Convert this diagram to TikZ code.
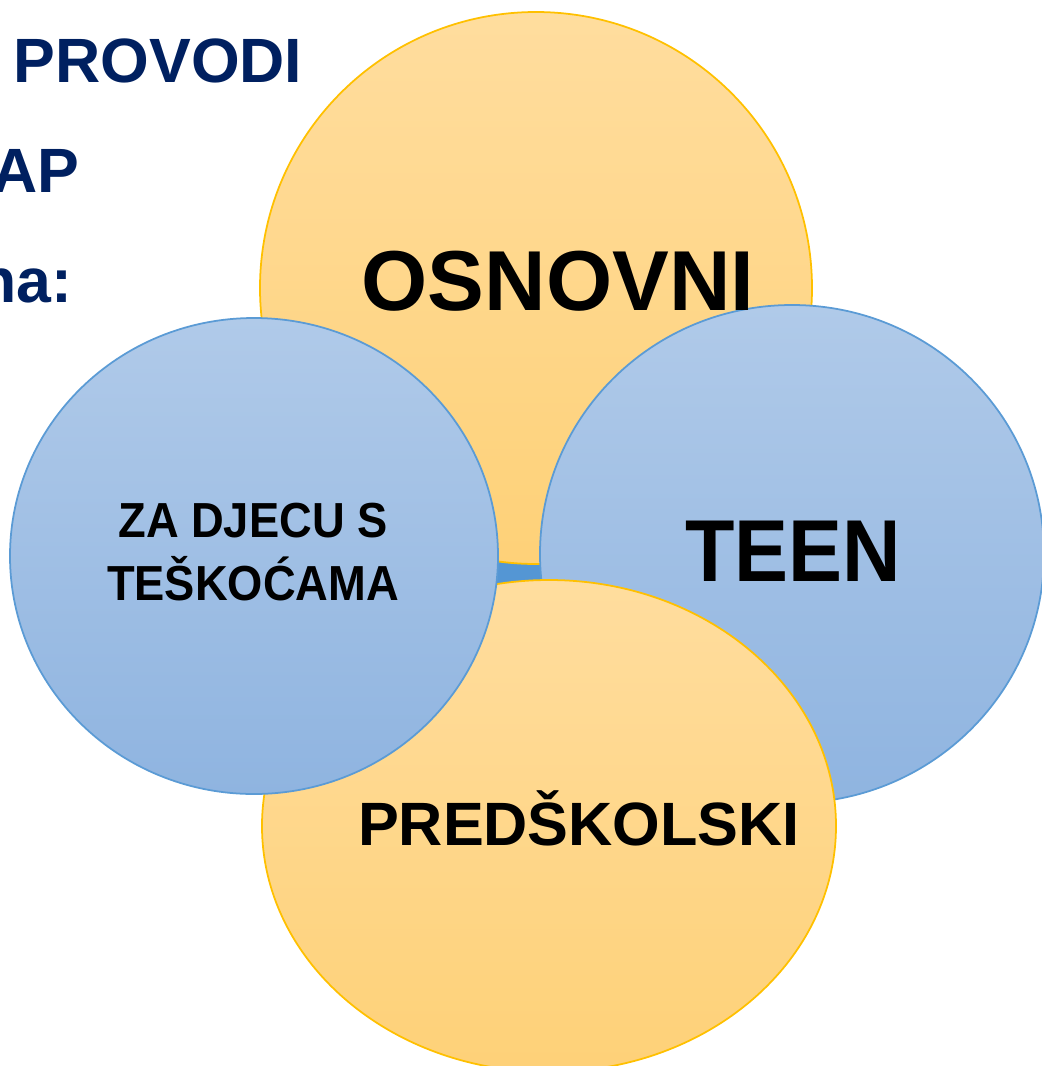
\documentclass[tikz,border=0pt]{standalone}
\usepackage{fontspec}
\setmainfont{Liberation Sans}
\newfontfamily\narrowfont[FakeStretch=0.92]{Liberation Sans}
\usetikzlibrary{calc}
\definecolor{mynavy}{RGB}{0, 32, 96}
\definecolor{myyellowtop}{RGB}{255, 221, 158}
\definecolor{myyellowbot}{RGB}{254, 209, 120}
\definecolor{myyellowline}{RGB}{255, 192, 0}
\definecolor{mybluetop}{RGB}{176, 202, 233}
\definecolor{mybluebot}{RGB}{143, 180, 224}
\definecolor{myblueline}{RGB}{91, 155, 213}
\definecolor{mybluedark}{RGB}{84, 150, 212}
\tikzset{yellowdisc/.style={top color=myyellowtop, bottom color=myyellowbot, draw=myyellowline, line width=0.5pt},
         bluedisc/.style={top color=mybluetop, bottom color=mybluebot, draw=myblueline, line width=0.5pt},
         headline/.style={text=mynavy, inner sep=0pt, font=\fontsize{17.8}{22}\selectfont\bfseries}}

\begin{document}
\begin{tikzpicture}[x=0.01cm, y=-0.01cm]
\useasboundingbox (0,0) rectangle (1042,1066);
\clip (0,0) rectangle (1042,1066);
% the cut-off title on the left
\node[headline, anchor=base west] (provodi) at (13,82) {PROVODI};
\node[headline, anchor=base east] (ap) at (80,192) {AP};
\node[headline, anchor=base east] (na) at (73,302) {na:};
% centre patch, then the four discs
\fill[mybluedark] (488,548) rectangle (546,592);
\shadedraw[yellowdisc] (536,288) ellipse (276 and 276);
\shadedraw[bluedisc] (792,554) ellipse (252 and 249);
\shadedraw[yellowdisc] (549,826) ellipse (287 and 246);
\shadedraw[bluedisc] (254,556) ellipse (244 and 238);
% labels
\node[anchor=base, inner sep=0pt, font=\fontsize{24.2}{28}\selectfont\bfseries] (osnovni) at (558,310) {OSNOVNI};
\node[anchor=base, inner sep=0pt, font=\fontsize{25}{28}\narrowfont\bfseries] (teen) at (793,581) {TEEN};
\node[anchor=base, inner sep=0pt, font=\fontsize{17.4}{20}\selectfont\bfseries] (predskolski) at (579,845) {PREDŠKOLSKI};
\node[anchor=north, inner sep=0pt, align=center, font=\fontsize{14}{18}\narrowfont\bfseries] (teskoce) at (253,502) {ZA DJECU S\\TEŠKOĆAMA};
\end{tikzpicture}
\end{document}
